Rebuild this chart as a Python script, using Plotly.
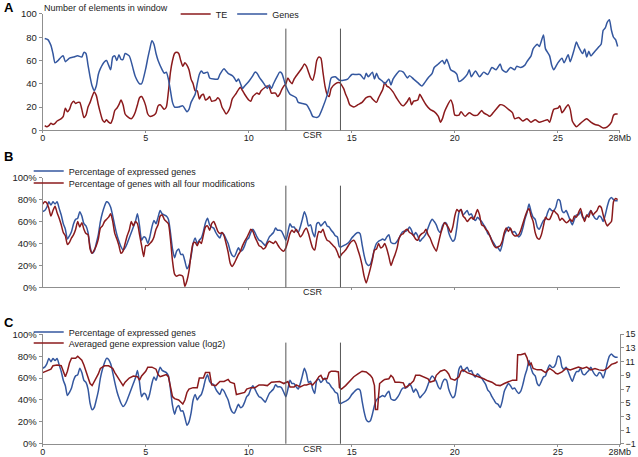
import plotly.graph_objects as go

# ---- panel A: number of elements in window (TE / genes) ----
genes_mb = [0.1, 0.25, 0.4, 0.5, 0.6, 0.75, 0.9, 1.0, 1.1, 1.3,
            1.5, 1.7, 1.9, 2.0, 2.1, 2.2, 2.3, 2.4, 2.5, 2.6,
            2.7, 2.8, 3.0, 3.1, 3.2, 3.3, 3.4, 3.5, 3.6, 3.7,
            3.8, 3.9, 4.0, 4.2, 4.4, 4.5, 4.7, 4.8, 5.0, 5.1,
            5.2, 5.3, 5.4, 5.5, 5.6, 5.8, 5.9, 6.0, 6.1, 6.2,
            6.3, 6.4, 6.6, 6.8, 7.0, 7.1, 7.2, 7.4, 7.5, 7.6,
            7.7, 7.8, 8.0, 8.1, 8.3, 8.5, 8.6, 8.8, 8.9, 9.0,
            9.2, 9.3, 9.4, 9.5, 9.6, 9.7, 9.8, 10.0, 10.2, 10.3,
            10.4, 10.5, 10.7, 10.9, 11.0, 11.1, 11.2, 11.4, 11.5, 11.6,
            11.7, 11.8, 12.0, 12.1, 12.3, 12.4, 12.6, 12.8, 13.0, 13.1,
            13.3, 13.4, 13.6, 13.8, 13.9, 14.0, 14.2, 14.4, 14.6, 14.8,
            15.0, 15.2, 15.4, 15.6, 15.7, 15.8, 16.0, 16.1, 16.2, 16.3,
            16.5, 16.6, 16.8, 16.9, 17.0, 17.2, 17.3, 17.5, 17.7, 17.8,
            18.0, 18.2, 18.4, 18.5, 18.7, 18.9, 19.0, 19.2, 19.4, 19.5,
            19.6, 19.7, 19.8, 20.0, 20.1, 20.2, 20.4, 20.6, 20.7, 20.8,
            21.0, 21.2, 21.4, 21.6, 21.8, 22.0, 22.2, 22.3, 22.5, 22.7,
            22.9, 23.0, 23.2, 23.4, 23.5, 23.7, 23.8, 24.0, 24.1, 24.3,
            24.4, 24.6, 24.7, 24.8, 25.0, 25.2, 25.3, 25.5, 25.6, 25.8,
            25.9, 26.0, 26.2, 26.3, 26.4, 26.5, 26.6, 26.8, 27.0, 27.1,
            27.2, 27.3, 27.4, 27.5, 27.6, 27.7, 27.8, 27.9]
genes_count = [79, 78, 73, 66, 58, 60, 63, 64, 59, 62,
               63, 64, 63, 67, 66, 56, 46, 38, 34, 38,
               48, 53, 59, 60, 56, 52, 63, 64, 60, 65,
               61, 61, 66, 64, 52, 46, 40, 40, 53, 62,
               70, 77, 74, 66, 60, 52, 49, 50, 44, 34,
               24, 20, 20, 21, 16, 18, 24, 31, 40, 48,
               51, 49, 50, 45, 44, 44, 48, 53, 51, 49,
               47, 45, 42, 44, 40, 36, 38, 42, 47, 50,
               49, 46, 41, 36, 39, 36, 40, 47, 50, 49,
               44, 38, 31, 30, 28, 24, 23, 22, 16, 12,
               11, 12, 20, 30, 37, 45, 46, 43, 43, 44,
               48, 48, 48, 44, 49, 46, 50, 44, 49, 45,
               42, 40, 44, 39, 44, 49, 51, 50, 45, 47,
               44, 41, 38, 40, 45, 49, 54, 57, 60, 57,
               61, 57, 52, 50, 48, 42, 44, 48, 52, 46,
               51, 46, 50, 48, 54, 52, 57, 52, 50, 54,
               52, 55, 54, 56, 59, 64, 70, 74, 72, 82,
               70, 64, 56, 52, 58, 62, 58, 65, 59, 70,
               76, 72, 66, 70, 63, 68, 64, 68, 72, 74,
               86, 88, 93, 95, 86, 80, 78, 72]

te_mb = [0.1, 0.2, 0.3, 0.4, 0.5, 0.6, 0.7, 0.9, 1.0, 1.1,
         1.2, 1.3, 1.4, 1.5, 1.6, 1.7, 1.8, 1.9, 2.0, 2.1,
         2.2, 2.3, 2.4, 2.5, 2.6, 2.7, 2.8, 2.9, 3.0, 3.1,
         3.2, 3.3, 3.4, 3.5, 3.6, 3.7, 3.8, 3.9, 4.0, 4.1,
         4.3, 4.4, 4.5, 4.6, 4.7, 4.8, 4.9, 5.0, 5.1, 5.2,
         5.4, 5.5, 5.6, 5.7, 5.8, 5.9, 6.0, 6.1, 6.2, 6.3,
         6.4, 6.5, 6.6, 6.7, 6.8, 6.9, 7.0, 7.1, 7.2, 7.3,
         7.4, 7.5, 7.6, 7.7, 7.8, 7.9, 8.0, 8.1, 8.2, 8.4,
         8.5, 8.6, 8.7, 8.8, 8.9, 9.0, 9.1, 9.2, 9.4, 9.5,
         9.6, 9.7, 9.8, 10.0, 10.1, 10.2, 10.4, 10.5, 10.6, 10.8,
         10.9, 11.0, 11.1, 11.3, 11.4, 11.5, 11.6, 11.7, 11.8, 11.9,
         12.0, 12.1, 12.2, 12.4, 12.6, 12.7, 12.8, 12.9, 13.0, 13.1,
         13.2, 13.3, 13.4, 13.5, 13.6, 13.7, 13.8, 13.9, 14.0, 14.2,
         14.4, 14.6, 14.7, 14.8, 14.9, 15.1, 15.3, 15.5, 15.7, 15.9,
         16.0, 16.2, 16.3, 16.5, 16.6, 16.7, 16.8, 17.0, 17.2, 17.4,
         17.5, 17.7, 17.8, 17.9, 18.0, 18.2, 18.3, 18.4, 18.6, 18.8,
         19.0, 19.2, 19.3, 19.4, 19.5, 19.6, 19.8, 19.9, 20.0, 20.2,
         20.3, 20.5, 20.7, 20.9, 21.1, 21.3, 21.4, 21.6, 21.7, 21.9,
         22.0, 22.2, 22.4, 22.6, 22.8, 22.9, 23.1, 23.3, 23.5, 23.7,
         23.9, 24.1, 24.3, 24.5, 24.6, 24.8, 25.0, 25.1, 25.2, 25.4,
         25.5, 25.6, 25.7, 25.8, 25.9, 26.1, 26.3, 26.4, 26.6, 26.8,
         27.0, 27.2, 27.4, 27.6, 27.7, 27.8, 27.9]
te_count = [4, 3, 4, 6, 5, 6, 8, 10, 12, 19,
            16, 18, 23, 25, 23, 24, 24, 18, 11, 13,
            20, 24, 29, 33, 30, 22, 15, 9, 7, 9,
            7, 6, 10, 17, 19, 22, 26, 22, 14, 12,
            10, 12, 16, 22, 28, 29, 26, 21, 14, 12,
            13, 15, 21, 22, 20, 18, 20, 33, 50, 60,
            66, 67, 66, 60, 55, 58, 56, 52, 44, 40,
            34, 34, 27, 30, 31, 26, 27, 29, 25, 26,
            28, 26, 20, 17, 14, 16, 20, 27, 32, 35,
            37, 34, 31, 26, 25, 29, 32, 31, 34, 37,
            38, 37, 32, 32, 29, 31, 35, 38, 40, 45,
            42, 40, 44, 49, 54, 57, 55, 50, 45, 43,
            49, 60, 63, 62, 50, 38, 31, 29, 36, 40,
            41, 36, 31, 27, 22, 20, 22, 24, 28, 29,
            27, 24, 28, 35, 41, 38, 37, 33, 27, 22,
            21, 25, 28, 22, 25, 26, 31, 28, 22, 18,
            16, 12, 7, 10, 16, 20, 26, 22, 13, 13,
            16, 12, 15, 13, 13, 17, 15, 13, 12, 16,
            18, 22, 21, 18, 15, 10, 11, 8, 10, 7,
            9, 7, 8, 9, 7, 18, 19, 21, 15, 20,
            22, 18, 8, 5, 3, 6, 9, 10, 7, 5,
            4, 2, 3, 7, 13, 14, 14]

# ---- panels B and C: sliding windows every 0.1 Mb ----
window_mb = [round(i * 0.1, 1) for i in range(280)]
pct_expressed = [69, 70, 73, 78, 75, 78, 76, 78, 72, 66,
                 58, 53, 44, 47, 51, 58, 62, 63, 69, 65,
                 58, 56, 50, 37, 31, 33, 40, 48, 60, 68,
                 74, 78, 77, 73, 65, 56, 48, 42, 37, 34,
                 36, 40, 45, 50, 55, 60, 67, 56, 43, 46,
                 45, 40, 46, 55, 61, 58, 64, 70, 67, 66,
                 65, 62, 50, 35, 27, 33, 35, 30, 30, 24,
                 17, 20, 28, 40, 45, 40, 43, 45, 51, 59,
                 63, 57, 55, 54, 50, 47, 45, 50, 48, 44,
                 40, 33, 29, 28, 32, 36, 33, 34, 38, 43,
                 45, 50, 53, 50, 46, 43, 42, 40, 38, 42,
                 46, 48, 50, 54, 52, 52, 51, 47, 43, 50,
                 58, 55, 55, 52, 50, 55, 62, 69, 64, 56,
                 57, 50, 46, 58, 59, 56, 58, 60, 56, 55,
                 52, 50, 47, 46, 37, 37, 38, 39, 40, 42,
                 45, 47, 49, 50, 49, 39, 29, 22, 20, 21,
                 27, 35, 40, 42, 43, 44, 43, 46, 48, 41,
                 40, 40, 42, 45, 49, 51, 51, 52, 55, 52,
                 47, 50, 47, 42, 44, 46, 49, 54, 59, 62,
                 60, 57, 52, 50, 56, 59, 58, 50, 45, 42,
                 44, 55, 68, 71, 66, 68, 70, 66, 67, 63,
                 61, 64, 62, 60, 57, 54, 49, 47, 43, 40,
                 37, 36, 33, 39, 48, 52, 55, 53, 50, 51,
                 48, 46, 48, 54, 62, 68, 76, 69, 64, 62,
                 55, 53, 57, 61, 62, 68, 72, 70, 70, 73,
                 80, 79, 70, 68, 70, 66, 61, 57, 62, 66,
                 66, 69, 64, 63, 65, 67, 70, 66, 63, 62,
                 65, 64, 60, 66, 74, 80, 82, 80, 79, 79]
pct_four_mods = [76, 78, 77, 72, 65, 70, 74, 68, 63, 57,
                 50, 47, 39, 41, 45, 48, 53, 60, 55, 59,
                 53, 49, 48, 35, 31, 34, 38, 44, 54, 56,
                 60, 62, 64, 67, 60, 49, 44, 38, 31, 33,
                 40, 47, 52, 60, 56, 60, 58, 48, 38, 28,
                 38, 38, 40, 42, 46, 53, 57, 65, 66, 62,
                 60, 58, 44, 24, 12, 10, 11, 11, 10, 1,
                 6, 15, 30, 40, 41, 38, 42, 40, 48, 55,
                 56, 52, 58, 60, 56, 51, 49, 50, 47, 40,
                 32, 22, 19, 22, 26, 30, 33, 38, 42, 45,
                 49, 53, 51, 46, 42, 38, 37, 35, 36, 40,
                 42, 41, 40, 42, 39, 36, 34, 33, 36, 42,
                 49, 52, 50, 53, 50, 46, 48, 52, 54, 49,
                 42, 36, 34, 44, 51, 50, 53, 47, 43, 42,
                 40, 38, 36, 32, 27, 30, 32, 34, 37, 40,
                 42, 43, 40, 34, 28, 20, 10, 4, 10, 17,
                 25, 34, 35, 40, 36, 37, 40, 35, 28, 20,
                 25, 30, 36, 45, 48, 49, 52, 53, 50, 49,
                 47, 44, 43, 47, 49, 50, 53, 48, 45, 40,
                 36, 33, 40, 48, 54, 59, 57, 54, 50, 55,
                 65, 71, 69, 71, 65, 63, 60, 62, 64, 62,
                 66, 71, 66, 57, 56, 53, 51, 47, 42, 38,
                 36, 37, 38, 42, 50, 54, 51, 54, 49, 47,
                 47, 48, 52, 58, 64, 69, 72, 65, 60, 50,
                 45, 44, 48, 56, 64, 62, 62, 66, 70, 68,
                 66, 61, 63, 61, 59, 60, 62, 60, 65, 64,
                 68, 72, 65, 60, 66, 64, 70, 66, 68, 70,
                 74, 73, 66, 60, 56, 58, 60, 78, 81, 80]

# averaged gene expression value (log2), right axis of panel C
expr_mb = [0.0, 0.2, 0.4, 0.5, 0.7, 0.9, 1.0, 1.1, 1.2, 1.3,
           1.4, 1.6, 1.7, 1.8, 1.9, 2.0, 2.1, 2.2, 2.3, 2.4,
           2.5, 2.6, 2.7, 2.8, 3.0, 3.2, 3.4, 3.5, 3.6, 3.8,
           3.9, 4.0, 4.2, 4.4, 4.6, 4.7, 4.8, 5.0, 5.1, 5.3,
           5.5, 5.6, 5.7, 5.8, 6.0, 6.1, 6.2, 6.3, 6.4, 6.6,
           6.7, 6.8, 6.9, 7.0, 7.1, 7.3, 7.5, 7.6, 7.8, 7.9,
           8.1, 8.2, 8.4, 8.6, 8.8, 9.0, 9.1, 9.3, 9.4, 9.6,
           9.8, 9.9, 10.1, 10.3, 10.5, 10.7, 10.9, 11.1, 11.3, 11.5,
           11.7, 11.9, 12.0, 12.2, 12.3, 12.5, 12.7, 12.8, 13.0, 13.1,
           13.3, 13.4, 13.5, 13.6, 13.7, 13.8, 13.9, 14.0, 14.2, 14.35,
           14.4, 14.5, 14.7, 14.9, 15.1, 15.3, 15.5, 15.7, 15.9, 16.0,
           16.1, 16.15, 16.25, 16.3, 16.35, 16.5, 16.6, 16.8, 16.9, 17.0,
           17.1, 17.3, 17.5, 17.6, 17.8, 18.0, 18.1, 18.3, 18.5, 18.7,
           18.8, 19.0, 19.1, 19.3, 19.5, 19.6, 19.7, 19.8, 20.0, 20.1,
           20.2, 20.3, 20.4, 20.6, 20.8, 21.0, 21.2, 21.4, 21.6, 21.8,
           22.0, 22.2, 22.4, 22.6, 22.8, 23.0, 23.05, 23.2, 23.4, 23.5,
           23.6, 23.7, 23.8, 24.0, 24.2, 24.4, 24.6, 24.8, 24.9, 25.0,
           25.2, 25.4, 25.6, 25.8, 26.0, 26.2, 26.4, 26.6, 26.8, 27.0,
           27.2, 27.4, 27.6, 27.8, 27.9]
expr_log2 = [9.4, 9.7, 9.9, 10.4, 10.5, 10.4, 9.7, 8.8, 9.6, 10.8,
             11.5, 11.5, 11.8, 11.5, 11.2, 10.5, 9.7, 8.9, 7.8, 7.5,
             8.0, 8.6, 9.2, 10.0, 10.4, 10.4, 10.0, 9.4, 8.9, 8.0,
             7.5, 8.0, 8.6, 8.9, 8.8, 8.3, 8.9, 9.6, 10.2, 10.2,
             9.9, 9.1, 8.8, 8.9, 9.1, 8.8, 7.3, 5.9, 5.6, 5.4,
             5.1, 4.8, 5.4, 6.5, 7.0, 7.2, 7.2, 8.6, 8.6, 9.4,
             9.4, 7.6, 7.5, 8.1, 8.1, 8.4, 8.0, 7.8, 6.2, 6.4,
             6.5, 7.0, 7.2, 7.2, 7.6, 7.6, 7.5, 8.0, 8.0, 8.1,
             7.8, 8.1, 7.3, 7.3, 7.6, 7.3, 7.6, 7.6, 7.8, 7.6,
             8.3, 8.8, 9.0, 8.4, 8.5, 8.5, 9.4, 9.6, 9.6, 9.5,
             7.2, 7.0, 7.5, 8.2, 8.8, 9.2, 9.6, 9.5, 9.0, 8.6,
             7.5, 4.0, 4.0, 6.0, 7.8, 8.2, 8.4, 8.5, 9.0, 8.7,
             8.0, 8.0, 7.9, 7.2, 7.6, 8.2, 9.0, 9.0, 8.8, 8.5,
             8.0, 8.2, 9.0, 9.6, 9.8, 9.6, 9.2, 8.5, 8.3, 8.6,
             8.8, 9.6, 9.8, 9.4, 9.2, 9.0, 8.7, 8.5, 8.2, 8.0,
             7.6, 7.5, 7.8, 8.0, 8.3, 8.3, 12.0, 12.0, 12.2, 11.6,
             10.5, 10.8, 10.0, 9.8, 9.8, 9.4, 10.0, 9.6, 9.3, 9.2,
             9.5, 10.0, 9.8, 10.0, 10.2, 10.0, 10.2, 9.8, 10.0, 9.8,
             9.7, 10.0, 10.6, 10.8, 11.0]

csr_bounds = [11.8, 14.45]
x_ticks = [0, 5, 10, 15, 20, 25, 28]
x_ticktext = ["0", "5", "10", "15", "20", "25", "28Mb"]

BLUE = "#34579f"
RED = "#8b1a1c"
AXIS = "#8f8f8f"
FONT = "Arial, Liberation Sans, sans-serif"

fig = go.Figure()

line_style = dict(width=1.5, shape="spline", smoothing=0.6)

fig.add_trace(go.Scatter(x=te_mb, y=te_count, mode="lines", name="TE",
                         line=dict(color=RED, **line_style), xaxis="x", yaxis="y", legend="legend"))
fig.add_trace(go.Scatter(x=genes_mb, y=genes_count, mode="lines", name="Genes",
                         line=dict(color=BLUE, **line_style), xaxis="x", yaxis="y", legend="legend"))

fig.add_trace(go.Scatter(x=window_mb, y=pct_expressed, mode="lines", name="Percentage of expressed genes",
                         line=dict(color=BLUE, **line_style), xaxis="x2", yaxis="y2", legend="legend2"))
fig.add_trace(go.Scatter(x=window_mb, y=pct_four_mods, mode="lines",
                         name="Percentage of genes with all four modifications",
                         line=dict(color=RED, **line_style), xaxis="x2", yaxis="y2", legend="legend3"))

fig.add_trace(go.Scatter(x=window_mb, y=pct_expressed, mode="lines", name="Percentage of expressed genes",
                         line=dict(color=BLUE, **line_style), xaxis="x3", yaxis="y3", legend="legend4"))
fig.add_trace(go.Scatter(x=expr_mb, y=expr_log2, mode="lines", name="Averaged gene expression value (log2)",
                         line=dict(color=RED, width=1.5, shape="linear"), xaxis="x3", yaxis="y4", legend="legend5"))

xdom = [0.0669, 0.9713]
tickfont = dict(family=FONT, size=9.5, color="#222")
xtickfont = dict(family=FONT, size=9, color="#222")

def xaxis(anchor, labels):
    return dict(domain=xdom, range=[0, 28], anchor=anchor, showline=True, linecolor=AXIS,
                linewidth=1, showgrid=False, zeroline=False, ticks="outside", ticklen=2,
                tickcolor=AXIS, tickvals=x_ticks if labels else x_ticks[1:-1],
                ticktext=x_ticktext if labels else None, showticklabels=labels,
                tickfont=xtickfont, ticklabelstandoff=-3)

def yaxis(dom, anchor, suffix=""):
    return dict(domain=dom, range=[0, 100], dtick=20, anchor=anchor, showline=True, linecolor=AXIS,
                showgrid=False, zeroline=False, ticks="outside", ticklen=3, tickcolor=AXIS,
                ticksuffix=suffix, tickfont=tickfont)

legend_font = dict(family=FONT, size=9, color="#222")

def legend(x, y, orientation="v", title=None):
    d = dict(x=x, y=y, xanchor="left", yanchor="middle", orientation=orientation,
             bgcolor="rgba(0,0,0,0)", font=legend_font, borderwidth=0, tracegroupgap=0)
    if title:
        d["title"] = dict(text=title, font=legend_font, side="left")
    return d

fig.update_layout(
    width=638, height=457,
    margin=dict(l=0, r=0, t=0, b=0, autoexpand=False),
    paper_bgcolor="white", plot_bgcolor="white",
    font=dict(family=FONT, size=9.5, color="#222"),
    xaxis=xaxis("y", True),
    yaxis=yaxis([0.7149, 0.9694], "x"),
    xaxis2=xaxis("y2", False),
    yaxis2=yaxis([0.3713, 0.6112], "x2", "%"),
    xaxis3=xaxis("y3", True),
    yaxis3=yaxis([0.029, 0.2685], "x3", "%"),
    yaxis4=dict(overlaying="y3", anchor="x3", side="right", range=[-1, 15], tick0=-1, dtick=2,
                showline=True, linecolor=AXIS, showgrid=False, zeroline=False,
                ticks="outside", ticklen=3, tickcolor=AXIS,
                tickfont=dict(family=FONT, size=9, color="#222")),
    legend=legend(0.066, 1 - 14 / 457, "h", "Number of elements in window"),
    legend2=legend(0.045, 1 - 171 / 457),
    legend3=legend(0.045, 1 - 183 / 457),
    legend4=legend(0.045, 1 - 332 / 457),
    legend5=legend(0.045, 1 - 343 / 457),
    showlegend=True,
)

# CSR boundaries and labels
for xa, ya, top in [("x", "y", 0.874), ("x2", "y2", 0.927), ("x3", "y3", 0.924)]:
    for b in csr_bounds:
        fig.add_shape(type="line", xref=xa, yref=ya + " domain", x0=b, x1=b, y0=0, y1=top,
                      line=dict(color="#555", width=1))
    fig.add_annotation(x=sum(csr_bounds) / 2, xref=xa, y=0, yref=ya + " domain", text="CSR",
                       showarrow=False, yanchor="top", yshift=2, font=xtickfont)

# panel letters
for letter, ypx in [("A", 8), ("B", 157), ("C", 322)]:
    fig.add_annotation(x=0.003, xref="paper", y=1 - ypx / 457, yref="paper", text="<b>%s</b>" % letter,
                       showarrow=False, xanchor="left", yanchor="middle",
                       font=dict(family=FONT, size=13, color="black"))

# the page's default body margin would push the figure out of the window
fig.write_html("out.html", config={"displayModeBar": False},
               post_script="document.body.style.margin='0';"
                           "document.documentElement.style.overflow='hidden';")
